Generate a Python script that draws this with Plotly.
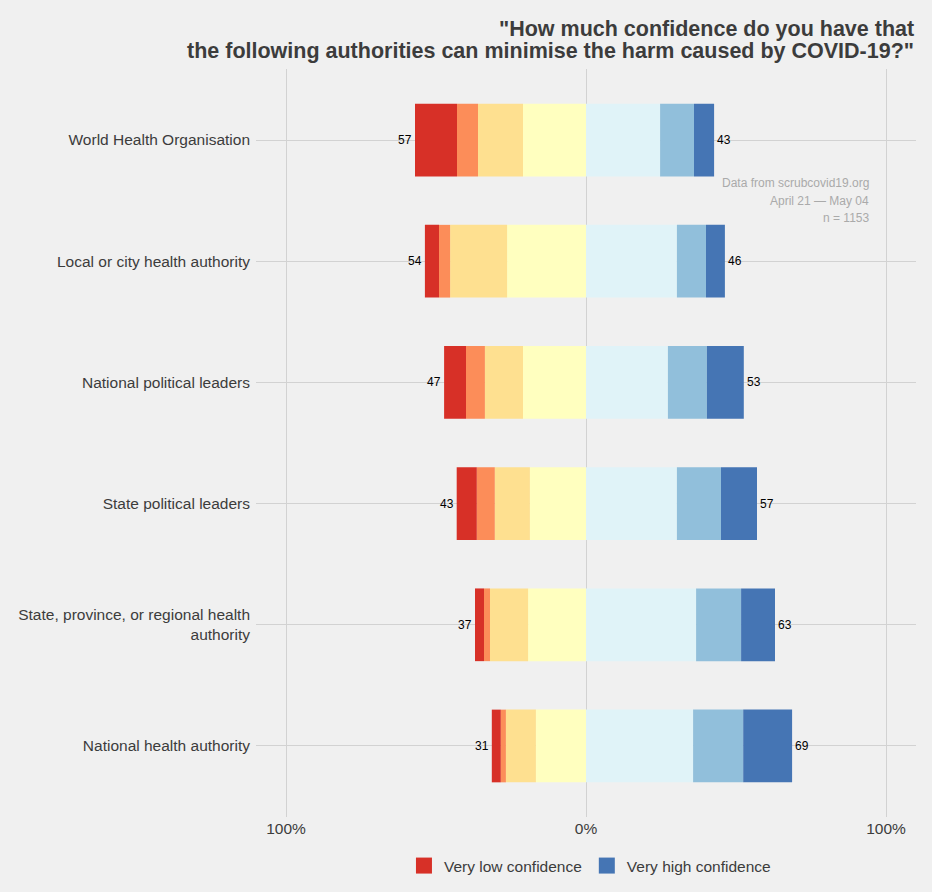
import plotly.graph_objects as go

categories = [
    "World Health Organisation",
    "Local or city health authority",
    "National political leaders",
    "State political leaders",
    "State, province, or regional health<br>authority",
    "National health authority",
]

# percentage of respondents per confidence level (1 = very low ... 7 = very high)
level1 = [14.0, 4.7, 7.3, 6.7, 3.0, 3.0]
level2 = [7.0, 3.7, 6.3, 6.0, 2.0, 1.7]
level3 = [15.0, 19.0, 12.7, 11.7, 12.7, 10.0]
level4 = [21.0, 26.3, 21.0, 18.7, 19.3, 16.7]
level5 = [24.7, 30.3, 27.3, 30.3, 36.7, 35.7]
level6 = [11.3, 9.7, 13.0, 14.7, 15.0, 16.7]
level7 = [6.7, 6.3, 12.3, 12.0, 11.3, 16.3]

low_labels = ["57", "54", "47", "43", "37", "31"]
high_labels = ["43", "46", "53", "57", "63", "69"]

x_tickvals = [-100, 0, 100]
x_ticktext = ["100%", "0%", "100%"]

colors = ["#d73027", "#fc8d59", "#fee090", "#ffffbf", "#e0f3f8", "#91bfdb", "#4575b4"]
names = ["Very low confidence", "Low", "Somewhat low", "Neutral",
         "Somewhat high", "High", "Very high confidence"]

title_lines = [
    "\"How much confidence do you have that",
    "the following authorities can minimise the harm caused by COVID-19?\"",
]
source_lines = ["Data from scrubcovid19.org", "April 21 — May 04", "n = 1153"]

FONT = "Liberation Sans, Arial, sans-serif"

fig = go.Figure()

# negative side: stacked outward from zero (level4 nearest zero)
neg = [(level4, 3), (level3, 2), (level2, 1), (level1, 0)]
for vals, idx in neg:
    fig.add_trace(go.Bar(
        y=categories, x=[-v for v in vals], orientation="h",
        marker=dict(color=colors[idx], line=dict(width=0)),
        name=names[idx], showlegend=False,
        width=0.6, hoverinfo="skip",
    ))
pos = [(level5, 4), (level6, 5), (level7, 6)]
for vals, idx in pos:
    fig.add_trace(go.Bar(
        y=categories, x=vals, orientation="h",
        marker=dict(color=colors[idx], line=dict(width=0)),
        name=names[idx], showlegend=False,
        width=0.6, hoverinfo="skip",
    ))

# legend entries (square keys)
for idx, rank in [(0, 1), (6, 2)]:
    fig.add_trace(go.Scatter(
        x=[None], y=[None], mode="markers", name=names[idx],
        marker=dict(symbol="square", size=16, color=colors[idx]),
        legendrank=rank, showlegend=True, hoverinfo="skip",
    ))

low_tot = [a + b + c + d for a, b, c, d in zip(level1, level2, level3, level4)]
high_tot = [a + b + c for a, b, c in zip(level5, level6, level7)]

annotations = []
for cat, t, lab in zip(categories, low_tot, low_labels):
    annotations.append(dict(
        x=-t, y=cat, xref="x", yref="y", text=lab, showarrow=False,
        xanchor="right", yanchor="middle", xshift=-1,
        font=dict(size=12, color="black", family=FONT),
    ))
for cat, t, lab in zip(categories, high_tot, high_labels):
    annotations.append(dict(
        x=t, y=cat, xref="x", yref="y", text=lab, showarrow=False,
        xanchor="left", yanchor="middle", xshift=1,
        font=dict(size=12, color="black", family=FONT),
    ))

for i, line in enumerate(source_lines):
    annotations.append(dict(
        text=line, x=95, y=0.5, xref="x", yref="y", xanchor="right", yanchor="middle",
        yshift=17.5 * (1 - i), align="right", showarrow=False,
        font=dict(size=12, color="#aaaaaa", family=FONT),
    ))

for i, line in enumerate(title_lines):
    annotations.append(dict(
        text="<b>" + line + "</b>", x=1, xref="paper", xanchor="right",
        y=(817 - (29 + 22 * i)) / 748, yref="paper", yanchor="middle",
        showarrow=False, align="right",
        font=dict(size=21.5, color="#3c3c3c", family=FONT),
    ))

fig.update_layout(
    width=932, height=892,
    barmode="relative",
    bargap=0.4,
    paper_bgcolor="#f0f0f0",
    plot_bgcolor="#f0f0f0",
    font=dict(family=FONT, color="#3c3c3c", size=15.5),
    margin=dict(l=256, r=16, t=69, b=75, autoexpand=False),
    xaxis=dict(
        range=[-110, 110], tickvals=x_tickvals, ticktext=x_ticktext,
        showgrid=True, gridcolor="#d2d2d2", gridwidth=1, zeroline=False,
        tickfont=dict(size=15.5, color="#3c3c3c"), fixedrange=True,
        ticklabelstandoff=0,
    ),
    yaxis=dict(
        categoryorder="array", categoryarray=categories,
        range=[5.586, -0.586], showgrid=True, gridcolor="#d2d2d2", gridwidth=1,
        zeroline=False, tickfont=dict(size=15.5, color="#3c3c3c"),
        ticklabelstandoff=5, fixedrange=True,
    ),
    legend=dict(
        orientation="h", x=0.506, xanchor="center",
        y=(892 - 866) / 892, yref="container", yanchor="middle",
        font=dict(size=15.5, color="#3c3c3c"), bgcolor="rgba(0,0,0,0)",
        traceorder="normal", itemwidth=30,
    ),
    annotations=annotations,
)

fig.write_html(
    "out.html",
    config={"displayModeBar": False},
    post_script="document.body.style.margin='0';document.body.style.padding='0';"
                "document.body.style.overflow='hidden';"
                "document.body.style.background='#f0f0f0';",
)
